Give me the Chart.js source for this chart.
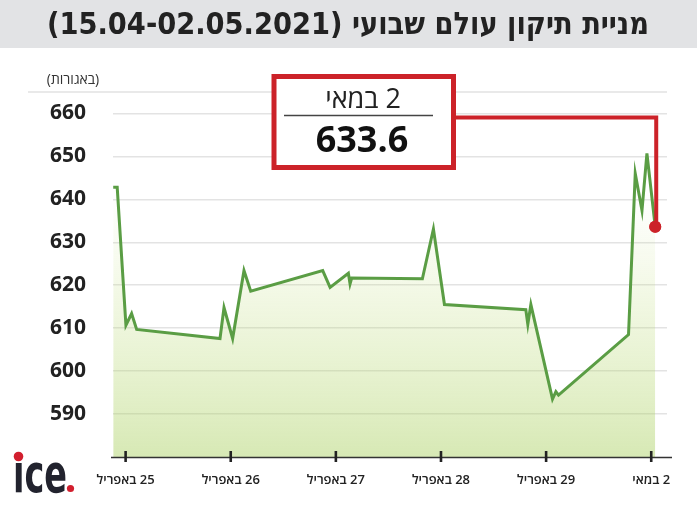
<!DOCTYPE html>
<html lang="he">
<head>
<meta charset="utf-8">
<script src="https://cdn.jsdelivr.net/npm/chart.js@4.4.1/dist/chart.umd.min.js"></script>
<style>
  html, body { margin: 0; padding: 0; background: #ffffff; }
  canvas { display: block; }
</style>
</head>
<body>
<canvas id="c" width="697" height="505" dir="rtl"></canvas>
<script>
// ---- data ----
const chartTitle = 'מניית תיקון עולם שבועי (15.04-02.05.2021)';
const unitLabel = '(באגורות)';
const xTickValues = [0, 1, 2, 3, 4, 5];
const xTickLabels = ['25 באפריל', '26 באפריל', '27 באפריל', '28 באפריל', '29 באפריל', '2 במאי'];
const yTickValues = [590, 600, 610, 620, 630, 640, 650, 660];
// x position in trading-day units (0 = 25 April ... 5 = 2 May)
const xDays = [-0.118, -0.080, 0.003, 0.057, 0.105, 0.898, 0.936, 1.018, 1.126, 1.190,
               1.875, 1.945, 2.119, 2.135, 2.151, 2.823, 2.928, 3.033, 3.807, 3.826,
               3.855, 4.061, 4.093, 4.118, 4.784, 4.848, 4.912, 4.959, 5.038];
const prices = [642.8, 642.8, 610.7, 613.4, 609.7, 607.6, 614.8, 607.6, 623.4, 618.6,
                623.4, 619.5, 622.8, 620.3, 621.7, 621.5, 633.1, 615.5, 614.3, 610.9,
                615.5, 593.5, 595.2, 594.4, 608.5, 646.0, 637.4, 650.7, 633.6];

const FAMILY = '"Open Sans", "DejaVu Sans", sans-serif';
const RED = '#cc2229';
const lastIdx = prices.length - 1;

const deco = {
  id: 'deco',
  beforeDraw(chart) {
    const ctx = chart.ctx;
    const ca = chart.chartArea;
    ctx.save();
    // title band
    ctx.fillStyle = '#e2e3e5';
    ctx.fillRect(0, 0, chart.width, 48);
    ctx.font = 'bold 31px "Liberation Sans Narrow", "DejaVu Sans Condensed", "DejaVu Sans", sans-serif';
    ctx.direction = 'rtl';
    ctx.textAlign = 'center';
    ctx.textBaseline = 'middle';
    ctx.fillStyle = '#222222';
    const tw = ctx.measureText(chartTitle).width;
    ctx.save();
    ctx.translate(348, 26);
    ctx.scale(602 / tw, 1);
    ctx.fillText(chartTitle, 0, 0);
    ctx.restore();
    // unit label
    ctx.font = '14px ' + FAMILY;
    ctx.fillStyle = '#333333';
    ctx.fillText(unitLabel, 73, 80);
    // top separator
    ctx.strokeStyle = '#e2e2e2';
    ctx.lineWidth = 1.5;
    ctx.beginPath();
    ctx.moveTo(28, ca.top);
    ctx.lineTo(ca.right, ca.top);
    ctx.stroke();
    // logo
    ctx.direction = 'ltr';
    ctx.textAlign = 'left';
    ctx.textBaseline = 'alphabetic';
    ctx.font = 'bold 53px "DejaVu Sans Condensed", "DejaVu Sans", sans-serif';
    ctx.fillStyle = '#22232e';
    const lw = ctx.measureText('ıce').width;
    ctx.save();
    ctx.translate(13, 492);
    ctx.scale(54 / lw, 1);
    ctx.fillText('ıce', 0, 0);
    ctx.restore();
    ctx.fillStyle = '#d21f2e';
    ctx.beginPath(); ctx.arc(18.5, 456.5, 4.8, 0, Math.PI * 2); ctx.fill();
    ctx.beginPath(); ctx.arc(70.5, 488.5, 3.6, 0, Math.PI * 2); ctx.fill();
    ctx.restore();
  },
  afterDatasetsDraw(chart) {
    const ctx = chart.ctx;
    const ca = chart.chartArea;
    const xs = chart.scales.x;
    ctx.save();
    // x axis line
    ctx.strokeStyle = '#333333';
    ctx.lineWidth = 1.5;
    ctx.beginPath();
    ctx.moveTo(ca.left - 2, ca.bottom + 0.5);
    ctx.lineTo(ca.right + 5, ca.bottom + 0.5);
    ctx.stroke();
    // tick marks
    ctx.strokeStyle = '#222222';
    ctx.lineWidth = 2.6;
    xTickValues.forEach(v => {
      const px = xs.getPixelForValue(v);
      ctx.beginPath();
      ctx.moveTo(px, ca.bottom - 6);
      ctx.lineTo(px, ca.bottom + 5);
      ctx.stroke();
    });
    // connector to last point
    const pt = chart.getDatasetMeta(0).data[lastIdx];
    const boxL = 274, boxT = 76.5, boxW = 179.5, boxH = 91;
    ctx.strokeStyle = RED;
    ctx.lineWidth = 4;
    ctx.lineJoin = 'miter';
    ctx.beginPath();
    ctx.moveTo(boxL + boxW, 117.5);
    ctx.lineTo(pt.x + 1, 117.5);
    ctx.lineTo(pt.x + 1, pt.y);
    ctx.stroke();
    pt.draw(ctx);
    // callout box
    ctx.fillStyle = '#ffffff';
    ctx.fillRect(boxL, boxT, boxW, boxH);
    ctx.lineWidth = 5;
    ctx.strokeStyle = RED;
    ctx.strokeRect(boxL, boxT, boxW, boxH);
    ctx.direction = 'rtl';
    ctx.textAlign = 'center';
    ctx.textBaseline = 'middle';
    ctx.fillStyle = '#222222';
    ctx.font = '27px ' + FAMILY;
    ctx.fillText(xTickLabels[xTickLabels.length - 1], 363, 100);
    ctx.strokeStyle = '#444444';
    ctx.lineWidth = 1.3;
    ctx.beginPath();
    ctx.moveTo(284, 115.5);
    ctx.lineTo(433, 115.5);
    ctx.stroke();
    ctx.fillStyle = '#111111';
    ctx.font = 'bold 36px ' + FAMILY;
    ctx.fillText(prices[lastIdx].toFixed(1), 362, 142);
    ctx.restore();
  }
};

new Chart(document.getElementById('c'), {
  type: 'line',
  data: {
    datasets: [{
      data: xDays.map((x, i) => ({ x: x, y: prices[i] })),
      borderColor: '#5a9d44',
      borderWidth: 3,
      tension: 0,
      fill: 'start',
      backgroundColor: (c) => {
        const ca = c.chart.chartArea;
        if (!ca) return 'rgba(0,0,0,0)';
        const g = c.chart.ctx.createLinearGradient(0, ca.top + 100, 0, ca.bottom);
        g.addColorStop(0, 'rgba(200,225,140,0)');
        g.addColorStop(0.35, 'rgba(190,220,120,0.18)');
        g.addColorStop(1, 'rgba(166,206,90,0.45)');
        return g;
      },
      pointRadius: (c) => (c.dataIndex === lastIdx ? 6 : 0),
      pointHoverRadius: 0,
      pointBackgroundColor: RED,
      pointBorderWidth: 0
    }]
  },
  options: {
    responsive: false,
    animation: false,
    events: [],
    layout: { padding: { top: 92, right: 30, left: 0, bottom: 0 } },
    plugins: { legend: { display: false }, tooltip: { enabled: false }, title: { display: false } },
    scales: {
      x: {
        type: 'linear',
        min: -0.12,
        max: 5.15,
        afterBuildTicks: (s) => { s.ticks = xTickValues.map(v => ({ value: v })); },
        afterFit: (s) => { s.height = 48; },
        grid: { display: false },
        border: { display: false },
        ticks: {
          callback: (v, i) => xTickLabels[i],
          font: { family: FAMILY, size: 13, weight: '600' },
          color: '#222222',
          padding: 7,
          maxRotation: 0,
          autoSkip: false
        }
      },
      y: {
        min: 580,
        max: 665,
        afterBuildTicks: (s) => { s.ticks = yTickValues.map(v => ({ value: v })); },
        afterFit: (s) => { s.width = 113; },
        grid: { color: '#e3e3e3', lineWidth: 1.5, drawTicks: false },
        border: { display: false },
        ticks: {
          font: { family: FAMILY, size: 21, weight: 'bold' },
          color: '#222222',
          padding: 27
        }
      }
    }
  },
  plugins: [deco]
});
</script>
</body>
</html>
